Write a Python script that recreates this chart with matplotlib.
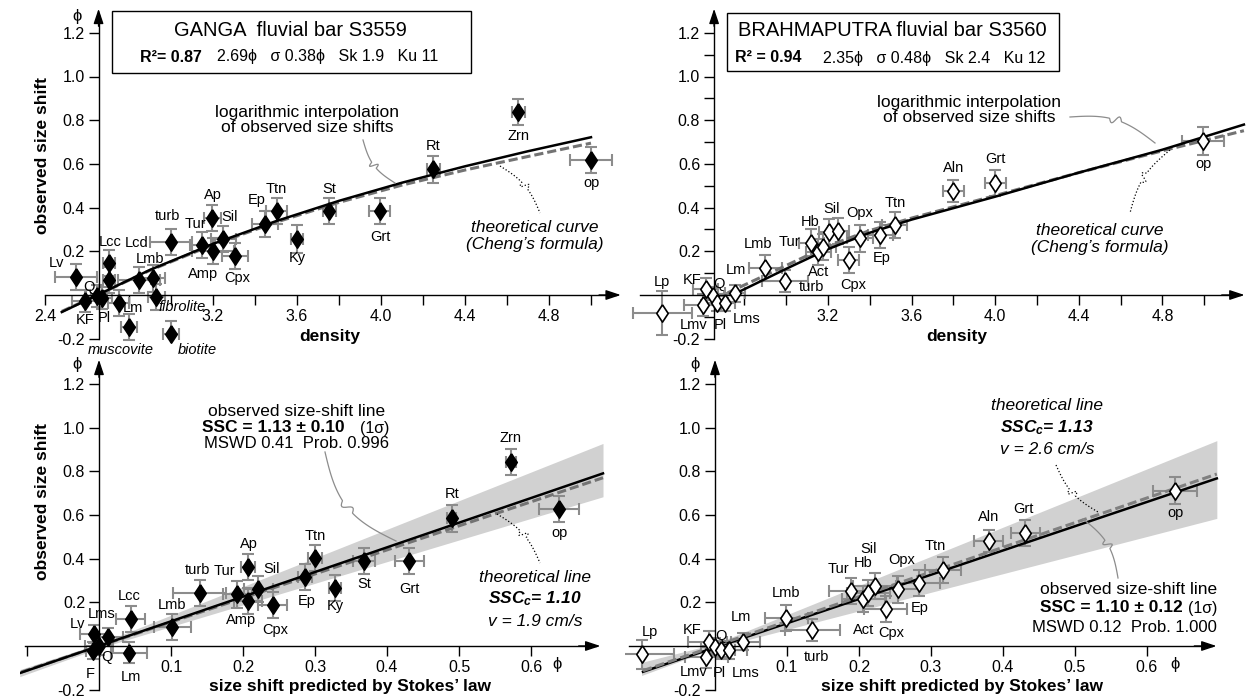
import numpy as np
import matplotlib.pyplot as plt
from matplotlib.lines import Line2D
from matplotlib.patches import Rectangle

plt.rcParams['font.family'] = ['Liberation Sans', 'DejaVu Sans']
plt.rcParams['mathtext.fontset'] = 'custom'
plt.rcParams['mathtext.it'] = 'Liberation Sans:italic:bold'
plt.rcParams['mathtext.rm'] = 'Liberation Sans:bold'
plt.rcParams['mathtext.bf'] = 'Liberation Sans:bold'

W, H = 1250, 700

# ---- GANGA S3559, observed size shift vs density
ganga_min = ['Lv', 'Lcc', 'Lcd', 'KF', 'Q', 'Pl', 'Lm', 'muscovite', 'biotite', 'fibrolite',
             'Lmb', 'Lms', 'turb', 'Tur', 'Ap', 'Sil', 'Amp', 'Cpx', 'Ep', 'Ttn', 'Ky', 'St',
             'Grt', 'Rt', 'Zrn', 'op']
ganga_dens = [2.55, 2.705, 2.705, 2.59, 2.646, 2.67, 2.752, 2.80, 3.00, 2.93,
              2.85, 2.913, 3.00, 3.15, 3.197, 3.25, 3.20, 3.305, 3.448, 3.503, 3.60, 3.754,
              3.995, 4.249, 4.654, 5.00]
ganga_shift = [0.084, 0.148, 0.069, -0.026, -0.005, -0.012, -0.038, -0.148, -0.178, -0.008,
               0.069, 0.076, 0.241, 0.229, 0.351, 0.256, 0.201, 0.178, 0.325, 0.386, 0.256, 0.386,
               0.386, 0.575, 0.839, 0.618]
ganga_dens_err = [0.10, 0.03, 0.03, 0.06, 0.05, 0.05, 0.05, 0.04, 0.04, 0.04,
                  0.10, 0.06, 0.10, 0.06, 0.04, 0.06, 0.10, 0.06, 0.06, 0.05, 0.03, 0.03,
                  0.05, 0.03, 0.03, 0.10]
ganga_shift_err = [0.06, 0.06, 0.06, 0.05, 0.05, 0.05, 0.06, 0.06, 0.06, 0.06,
                   0.06, 0.06, 0.06, 0.06, 0.06, 0.06, 0.06, 0.06, 0.06, 0.06, 0.065, 0.06,
                   0.06, 0.063, 0.06, 0.06]
ganga_curve_dens = [2.48, 2.65, 2.9, 3.2, 3.5, 3.8, 4.1, 4.4, 4.7, 5.0]
ganga_log_fit = [-0.078, 0.0, 0.115, 0.234, 0.338, 0.431, 0.514, 0.589, 0.658, 0.722]
ganga_cheng = [-0.075, 0.0, 0.113, 0.230, 0.333, 0.424, 0.503, 0.572, 0.634, 0.695]

# ---- BRAHMAPUTRA S3560, observed size shift vs density
brahma_min = ['Lp', 'Lmv', 'KF', 'Q', 'Pl', 'Lms', 'Lm', 'Lmb', 'turb', 'Tur', 'Act', 'Hb',
              'Sil', 'Ap', 'Cpx', 'Opx', 'Ep', 'Ttn', 'Aln', 'Grt', 'op']
brahma_dens = [2.407, 2.600, 2.614, 2.650, 2.670, 2.707, 2.755, 2.900, 2.996, 3.120, 3.154, 3.178,
               3.205, 3.250, 3.300, 3.353, 3.449, 3.520, 3.800, 4.000, 4.996]
brahma_shift = [-0.081, -0.046, 0.026, -0.005, -0.035, -0.035, 0.008, 0.125, 0.065, 0.240, 0.198, 0.221,
                0.290, 0.294, 0.160, 0.259, 0.275, 0.320, 0.476, 0.511, 0.706]
brahma_dens_err = [0.14, 0.09, 0.06, 0.05, 0.05, 0.05, 0.05, 0.08, 0.11, 0.06, 0.06, 0.06,
                   0.05, 0.05, 0.05, 0.06, 0.06, 0.06, 0.05, 0.05, 0.10]
brahma_shift_err = [0.10, 0.05, 0.05, 0.04, 0.04, 0.04, 0.04, 0.06, 0.05, 0.06, 0.06, 0.06,
                    0.06, 0.06, 0.06, 0.06, 0.06, 0.06, 0.05, 0.06, 0.063]
brahma_fit_dens = [2.76, 3.0, 3.2, 3.4, 3.6, 4.0, 4.4, 4.8, 5.19]
brahma_log_fit = [0.008, 0.12, 0.21, 0.285, 0.345, 0.45, 0.56, 0.665, 0.78]
brahma_cheng_dens = [2.72, 3.0, 3.2, 3.4, 3.6, 4.0, 4.4, 4.8, 5.19]
brahma_cheng = [0.01, 0.135, 0.225, 0.295, 0.352, 0.455, 0.56, 0.66, 0.752]

# ---- GANGA, observed vs Stokes-predicted size shift
ganga_s_min = ['Lv', 'Lms', 'F', 'Q', 'Lm', 'Lcc', 'Lmb', 'turb', 'Tur', 'Ap', 'Amp', 'Sil', 'Cpx',
               'Ep', 'Ttn', 'Ky', 'St', 'Grt', 'Rt', 'Zrn', 'op']
ganga_stokes = [-0.007, 0.013, -0.008, 0.0, 0.041, 0.044, 0.102, 0.140, 0.192, 0.207, 0.207, 0.221, 0.241,
                0.286, 0.300, 0.328, 0.368, 0.431, 0.490, 0.572, 0.639]
ganga_s_shift = [0.055, 0.043, -0.021, 0.0, -0.030, 0.122, 0.086, 0.244, 0.236, 0.363, 0.206, 0.261, 0.188,
                 0.317, 0.401, 0.264, 0.390, 0.390, 0.584, 0.843, 0.626]
ganga_stokes_err = [0.02, 0.02, 0.01, 0.02, 0.025, 0.02, 0.026, 0.037, 0.02, 0.01, 0.02, 0.02, 0.02,
                    0.01, 0.01, 0.008, 0.015, 0.02, 0.006, 0.007, 0.028]
ganga_s_shift_err = [0.04, 0.04, 0.04, 0.04, 0.05, 0.06, 0.06, 0.06, 0.06, 0.06, 0.06, 0.06, 0.06,
                     0.06, 0.06, 0.06, 0.06, 0.06, 0.06, 0.06, 0.06]
ganga_obs_line_x = [-0.11, 0.70]
ganga_obs_line_y = [-0.124, 0.79]
ganga_theo_line_x = [-0.125, 0.70]
ganga_theo_line_y = [-0.138, 0.77]
ganga_band_x = [-0.11, 0.0, 0.70]
ganga_band_lo = [-0.14, -0.01, 0.683]
ganga_band_hi = [-0.108, 0.01, 0.927]

# ---- BRAHMAPUTRA, observed vs Stokes-predicted size shift
brahma_s_min = ['Lp', 'Lmv', 'KF', 'Q', 'Pl', 'Lms', 'Lm', 'Lmb', 'turb', 'Tur', 'Act', 'Hb', 'Sil',
                'Cpx', 'Opx', 'Ep', 'Ttn', 'Aln', 'Grt', 'op']
brahma_stokes = [-0.102, -0.012, -0.008, 0.0, 0.008, 0.020, 0.039, 0.099, 0.135, 0.189, 0.206, 0.213, 0.222,
                 0.237, 0.254, 0.283, 0.317, 0.380, 0.431, 0.639]
brahma_s_shift = [-0.038, -0.049, 0.017, -0.003, -0.018, -0.018, 0.020, 0.127, 0.073, 0.253, 0.214, 0.241, 0.273,
                  0.168, 0.259, 0.287, 0.348, 0.480, 0.516, 0.711]
brahma_stokes_err = [0.045, 0.03, 0.03, 0.02, 0.02, 0.025, 0.023, 0.03, 0.038, 0.03, 0.03, 0.03, 0.03,
                     0.03, 0.03, 0.03, 0.025, 0.02, 0.02, 0.03]
brahma_s_shift_err = [0.065, 0.05, 0.05, 0.04, 0.04, 0.04, 0.04, 0.06, 0.05, 0.06, 0.06, 0.06, 0.06,
                      0.06, 0.06, 0.06, 0.06, 0.05, 0.06, 0.063]
brahma_obs_line_x = [-0.10, 0.697]
brahma_obs_line_y = [-0.118, 0.767]
brahma_theo_line_x = [-0.10, 0.697]
brahma_theo_line_y = [-0.113, 0.787]
brahma_band_x = [-0.102, 0.0, 0.697]
brahma_band_lo = [-0.135, -0.01, 0.584]
brahma_band_hi = [-0.075, 0.01, 0.94]

# label offsets (pixels, right / up) of each mineral name from its point
ganga_offsets = {'Lv': (-20, 14), 'Lcc': (1, 21), 'Lcd': (28, 37), 'KF': (0, -19), 'Q': (-8, 9),
                 'Pl': (3, -20), 'Lm': (14, -5), 'muscovite': (-8, -23), 'biotite': (26, -16),
                 'fibrolite': (26, -10), 'Lmb': (11, 21), 'turb': (-4, 26), 'Tur': (-7, 21),
                 'Ap': (1, 23), 'Sil': (6, 22), 'Amp': (-10, -23), 'Cpx': (2, -22), 'Ep': (-8, 24),
                 'Ttn': (0, 22), 'Ky': (0, -19), 'St': (0, 22), 'Grt': (0, -26), 'Rt': (0, 23),
                 'Zrn': (0, -24), 'op': (0, -23)}
brahma_offsets = {'Lp': (0, 31), 'Lmv': (-9, -20), 'KF': (-13, 9), 'Q': (6, 12), 'Pl': (3, -22),
                  'Lms': (22, -16), 'Lm': (1, 23), 'Lmb': (-7, 24), 'turb': (26, -6), 'Tur': (-22, 1),
                  'Act': (0, -20), 'Hb': (-13, 25), 'Sil': (3, 23), 'Cpx': (4, -25), 'Opx': (0, 25),
                  'Ep': (2, -23), 'Ttn': (0, 22), 'Aln': (0, 23), 'Grt': (0, 24), 'op': (0, -23)}
ganga_s_offsets = {'Lv': (-16, 10), 'Lms': (-7, 23), 'F': (-3, -23), 'Q': (8, -11), 'Lm': (2, -24),
                   'Lcc': (-1, 23), 'Lmb': (0, 22), 'turb': (-2, 23), 'Tur': (-13, 23), 'Ap': (1, 23),
                   'Sil': (13, 20), 'Amp': (-7, -19), 'Cpx': (3, -25), 'Ep': (2, -24), 'Ttn': (0, 22),
                   'Ky': (0, -18), 'St': (0, -23), 'Grt': (0, -28), 'Rt': (0, 24), 'Zrn': (0, 24),
                   'op': (0, -24)}
brahma_s_offsets = {'Lp': (8, 22), 'Lmv': (-13, -15), 'KF': (-17, 12), 'Q': (6, 11), 'Pl': (-1, -23),
                    'Lms': (16, -23), 'Lm': (-2, 25), 'Lmb': (0, 25), 'turb': (4, -27), 'Tur': (-13, 22),
                    'Hb': (-5, 30), 'Sil': (-6, 37), 'Act': (0, -31), 'Cpx': (6, -24), 'Opx': (4, 29),
                    'Ep': (1, -25), 'Ttn': (-8, 24), 'Aln': (0, 24), 'Grt': (-2, 24), 'op': (0, -22)}

DIAMOND = [(0, 1), (0.66, 0), (0, -1), (-0.66, 0), (0, 1)]
YLIM = (-0.22, 1.33)
Y_SCALE = 218.5

fig = plt.figure(figsize=(12.5, 7), dpi=100)


def make_axes(xlim, x_ref, x_ref_px, x_scale, y0_px):
    left = x_ref_px + (xlim[0] - x_ref) * x_scale
    right = x_ref_px + (xlim[1] - x_ref) * x_scale
    top = y0_px - YLIM[1] * Y_SCALE
    bottom = y0_px - YLIM[0] * Y_SCALE
    ax = fig.add_axes([left / W, 1 - bottom / H, (right - left) / W, (bottom - top) / H])
    ax.set_xlim(xlim)
    ax.set_ylim(YLIM)
    ax.patch.set_visible(False)
    ax.spines['top'].set_visible(False)
    ax.spines['right'].set_visible(False)
    return ax


def style_axes(ax, y_axis_at, xbounds, ytop, xmajor, xlabels, xminor, yminor=False):
    ax.spines['left'].set_position(('data', y_axis_at))
    ax.spines['bottom'].set_position(('data', 0))
    ax.spines['left'].set_bounds(-0.2, ytop)
    ax.spines['bottom'].set_bounds(*xbounds)
    for s in ('left', 'bottom'):
        ax.spines[s].set_linewidth(1.0)
    ax.set_yticks([-0.2, 0.2, 0.4, 0.6, 0.8, 1.0, 1.2])
    ax.set_yticklabels(['-0.2', '0.2', '0.4', '0.6', '0.8', '1.0', '1.2'])
    if yminor:
        ax.set_yticks([-0.1, 0.1, 0.3, 0.5, 0.7, 0.9, 1.1], minor=True)
    ax.set_xticks(xmajor)
    ax.set_xticklabels(xlabels)
    ax.set_xticks(xminor, minor=True)
    ax.tick_params(which='both', direction='out', length=7, width=1.0)
    ax.tick_params(labelsize=11.5, pad=3)
    arrow = dict(arrowstyle='-|>,head_length=0.9,head_width=0.3', color='k', lw=1.0,
                 shrinkA=0, shrinkB=0)
    ax.annotate('', xy=(y_axis_at, ytop + 0.03), xytext=(y_axis_at, ytop - 0.05),
                arrowprops=arrow, annotation_clip=False)
    span = xbounds[1] - xbounds[0]
    ax.annotate('', xy=(xbounds[1] + span * 0.008, 0), xytext=(xbounds[1] - span * 0.03, 0),
                arrowprops=arrow, annotation_clip=False)


def draw_points(ax, names, x, y, xerr, yerr, offsets, hollow, italic=()):
    ax.errorbar(x, y, xerr=xerr, yerr=yerr, fmt='none', ecolor='0.55', elinewidth=1.5,
                capsize=4, capthick=1.5, zorder=2)
    ax.plot(x, y, ls='none', marker=DIAMOND, ms=12.5, mfc='white' if hollow else 'black',
            mec='black', mew=1.2, zorder=6)
    for name, xi, yi in zip(names, x, y):
        if name in offsets:
            ax.annotate(name, (xi, yi), xytext=offsets[name], textcoords='offset pixels',
                        ha='center', va='center', fontsize=10.5,
                        style='italic' if name in italic else 'normal', zorder=7)


def ftext(x, y, s, **kw):
    kw.setdefault('ha', 'center')
    kw.setdefault('va', 'center')
    fig.text(x / W, 1 - y / H, s, **kw)


def connector(p0, p1, bow=0.15, ls='-', color='0.55', lw=0.9):
    p0 = np.array(p0, float)
    p1 = np.array(p1, float)
    d = p1 - p0
    length = np.hypot(*d)
    n = np.array([-d[1], d[0]]) / length
    t = np.linspace(0, 1, 80)
    pts = p0 + np.outer(t, d) + np.outer(bow * length * np.sin(np.pi * t), n)
    kink = np.where(np.abs(t - 0.5) < 0.07, np.sin((t - 0.43) / 0.14 * 2 * np.pi), 0)
    pts += np.outer(kink * 4, n)
    fig.add_artist(Line2D(pts[:, 0] / W, 1 - pts[:, 1] / H, color=color, lw=lw, ls=ls,
                          transform=fig.transFigure))


# ---------------- top left: GANGA vs density
ax1 = make_axes((2.38, 5.18), 3.2, 213, 210, 295)
style_axes(ax1, 2.655, (2.40, 5.12), 1.28, [2.4, 3.2, 3.6, 4.0, 4.4, 4.8],
           ['2.4', '3.2', '3.6', '4.0', '4.4', '4.8'], [2.8, 3.0, 3.4, 3.8, 4.2, 4.6, 5.0])
ax1.plot(ganga_curve_dens, ganga_cheng, color='0.45', lw=2.2, ls=(0, (3, 1.3)), zorder=3)
ax1.plot(ganga_curve_dens, ganga_log_fit, color='black', lw=1.8, zorder=4)
draw_points(ax1, ganga_min, ganga_dens, ganga_shift, ganga_dens_err, ganga_shift_err,
            ganga_offsets, hollow=False, italic=('muscovite', 'biotite', 'fibrolite'))

# ---------------- top right: BRAHMAPUTRA vs density
ax2 = make_axes((2.24, 5.215), 3.2, 828, 209, 295)
style_axes(ax2, 2.655, (2.30, 5.17), 1.28, [3.2, 3.6, 4.0, 4.4, 4.8],
           ['3.2', '3.6', '4.0', '4.4', '4.8'], [2.8, 3.0, 3.4, 3.8, 4.2, 4.6, 5.0], yminor=True)
ax2.plot(brahma_cheng_dens, brahma_cheng, color='0.45', lw=2.2, ls=(0, (3, 1.3)), zorder=3)
ax2.plot(brahma_fit_dens, brahma_log_fit, color='black', lw=1.8, zorder=4)
draw_points(ax2, brahma_min, brahma_dens, brahma_shift, brahma_dens_err, brahma_shift_err,
            brahma_offsets, hollow=True)

# ---------------- bottom left: GANGA vs Stokes
ax3 = make_axes((-0.11, 0.71), 0.0, 99, 720, 646)
style_axes(ax3, 0.0, (-0.103, 0.69), 1.28, [0.1, 0.2, 0.3, 0.4, 0.5, 0.6],
           ['0.1', '0.2', '0.3', '0.4', '0.5', '0.6'], [-0.1])
ax3.fill_between(ganga_band_x, ganga_band_lo, ganga_band_hi, color='0.82', lw=0, zorder=1)
ax3.plot(ganga_theo_line_x, ganga_theo_line_y, color='0.45', lw=2.2, ls=(0, (3, 1.3)), zorder=3)
ax3.plot(ganga_obs_line_x, ganga_obs_line_y, color='black', lw=1.8, zorder=4)
draw_points(ax3, ganga_s_min, ganga_stokes, ganga_s_shift, ganga_stokes_err, ganga_s_shift_err,
            ganga_s_offsets, hollow=False)

# ---------------- bottom right: BRAHMAPUTRA vs Stokes
ax4 = make_axes((-0.125, 0.71), 0.0, 715, 720, 646)
style_axes(ax4, 0.0, (-0.12, 0.69), 1.28, [0.1, 0.2, 0.3, 0.4, 0.5, 0.6],
           ['0.1', '0.2', '0.3', '0.4', '0.5', '0.6'], [])
ax4.fill_between(brahma_band_x, brahma_band_lo, brahma_band_hi, color='0.82', lw=0, zorder=1)
ax4.plot(brahma_obs_line_x, brahma_obs_line_y, color='black', lw=1.8, zorder=3)
ax4.plot(brahma_theo_line_x, brahma_theo_line_y, color='0.5', lw=2.2, ls=(0, (3, 1.3)), zorder=4)
draw_points(ax4, brahma_s_min, brahma_stokes, brahma_s_shift, brahma_stokes_err, brahma_s_shift_err,
            brahma_s_offsets, hollow=True)

# ---------------- axis titles and phi units
ftext(330, 337, 'density', fontsize=12.5, fontweight='bold')
ftext(957, 337, 'density', fontsize=12.5, fontweight='bold')
ftext(350, 687, "size shift predicted by Stokes\u2019 law", fontsize=12.5, fontweight='bold')
ftext(962, 687, "size shift predicted by Stokes\u2019 law", fontsize=12.5, fontweight='bold')
ftext(43, 155, 'observed size shift', fontsize=12.5, fontweight='bold', rotation=90)
ftext(43, 501, 'observed size shift', fontsize=12.5, fontweight='bold', rotation=90)
for x, y in [(77, 17), (77, 365), (695, 365), (557, 665), (1175, 665)]:
    ftext(x, y, '\u03d5', fontsize=12)

# ---------------- sample boxes
for x0, y0, x1, y1 in [(112, 11, 471, 73), (727, 13, 1059, 71)]:
    fig.add_artist(Rectangle((x0 / W, 1 - y1 / H), (x1 - x0) / W, (y1 - y0) / H, fill=False,
                             ec='black', lw=1.0, transform=fig.transFigure))
ftext(290, 31, 'GANGA  fluvial bar S3559', fontsize=14.5)
ftext(140, 57, 'R\u00b2= 0.87', fontsize=11.5, fontweight='bold', ha='left')
ftext(217, 57, '2.69\u03d5   \u03c3 0.38\u03d5   Sk 1.9   Ku 11', fontsize=11.5, ha='left')
ftext(892, 31, 'BRAHMAPUTRA fluvial bar S3560', fontsize=14.5)
ftext(735, 58, 'R\u00b2 = 0.94', fontsize=11.5, fontweight='bold', ha='left')
ftext(823, 58, '2.35\u03d5   \u03c3 0.48\u03d5   Sk 2.4   Ku 12', fontsize=11.5, ha='left')

# ---------------- curve annotations, top row
ftext(307, 120, 'logarithmic interpolation\nof observed size shifts', fontsize=12.5, linespacing=1.0)
ftext(535, 236, "theoretical curve\n(Cheng\u2019s formula)", fontsize=12.5, style='italic', linespacing=1.1)
connector((363, 140), (395, 183), bow=0.12)
connector((500, 166), (540, 213), bow=-0.1, ls=':', color='black')
ftext(969, 110, 'logarithmic interpolation\nof observed size shifts', fontsize=12.5, linespacing=1.0)
ftext(1100, 239, "theoretical curve\n(Cheng\u2019s formula)", fontsize=12.5, style='italic', linespacing=1.1)
connector((1070, 117), (1155, 143), bow=-0.12)
connector((1170, 150), (1130, 213), bow=0.1, ls=':', color='black')

# ---------------- line annotations, bottom row
ftext(297, 412, 'observed size-shift line', fontsize=12.5)
ftext(202, 428, 'SSC = 1.13 \u00b1 0.10', fontsize=12.5, fontweight='bold', ha='left')
ftext(360, 428, '(1\u03c3)', fontsize=11.5, ha='left')
ftext(297, 444, 'MSWD 0.41  Prob. 0.996', fontsize=12)
connector((325, 452), (396, 541), bow=0.15)
ftext(535, 577, 'theoretical line', fontsize=12.5, style='italic')
ftext(535, 599, r'$SSC_c$= 1.10', fontsize=12.5, style='italic', fontweight='bold')
ftext(535, 622, 'v = 1.9 cm/s', fontsize=12.5, style='italic')
connector((497, 514), (540, 563), bow=-0.1, ls=':', color='black')

ftext(1047, 405, 'theoretical line', fontsize=12.5, style='italic')
ftext(1047, 428, r'$SSC_c$= 1.13', fontsize=12.5, style='italic', fontweight='bold')
ftext(1047, 450, 'v = 2.6 cm/s', fontsize=12.5, style='italic')
connector((1056, 465), (1098, 512), bow=0.1, ls=':', color='black')
ftext(1217, 590, 'observed size-shift line', fontsize=12.5, ha='right')
ftext(1040, 608, 'SSC = 1.10 \u00b1 0.12', fontsize=12.5, fontweight='bold', ha='left')
ftext(1188, 608, '(1\u03c3)', fontsize=11.5, ha='left')
ftext(1217, 627, 'MSWD 0.12  Prob. 1.000', fontsize=12, ha='right')
connector((1118, 578), (1083, 519), bow=0.12)

fig.savefig('out.png', dpi=100)
